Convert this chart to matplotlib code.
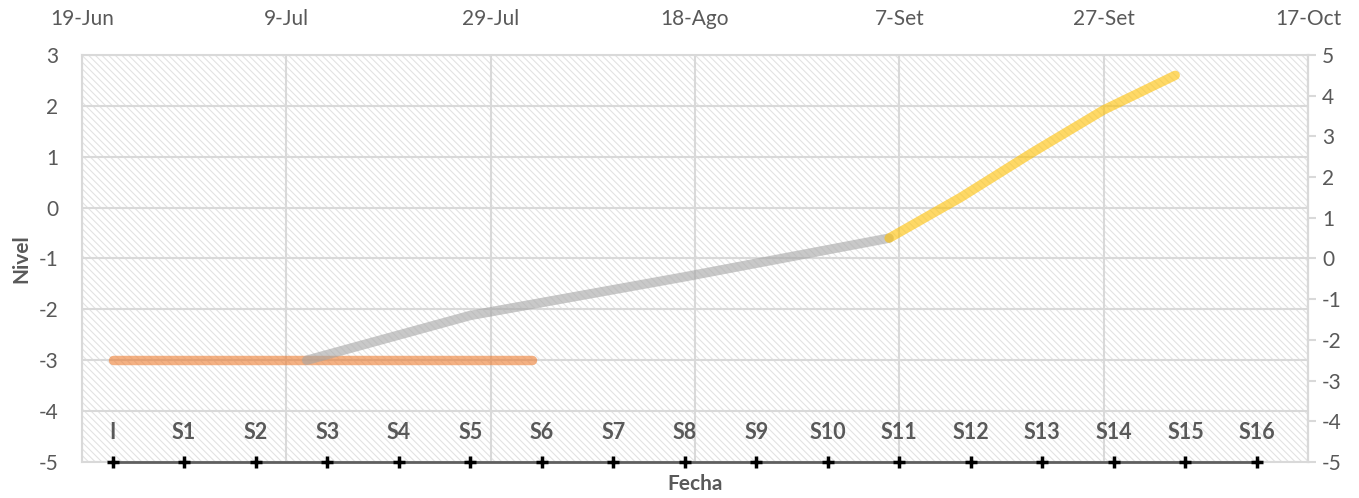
import pandas as pd
import matplotlib.pyplot as plt

plt.rcParams['font.family'] = ['Lato', 'DejaVu Sans']
plt.rcParams['axes.unicode_minus'] = False
plt.rcParams['hatch.linewidth'] = 0.8

# data
week_labels = ["I", "S1", "S2", "S3", "S4", "S5", "S6", "S7", "S8",
               "S9", "S10", "S11", "S12", "S13", "S14", "S15", "S16"]
week_dates = ["2021-06-22", "2021-06-29", "2021-07-06", "2021-07-13",
              "2021-07-20", "2021-07-27", "2021-08-03", "2021-08-10",
              "2021-08-17", "2021-08-24", "2021-08-31", "2021-09-07",
              "2021-09-14", "2021-09-21", "2021-09-28", "2021-10-05",
              "2021-10-12"]
week_level = [-5, -5, -5, -5, -5, -5, -5, -5, -5, -5, -5, -5, -5, -5, -5, -5, -5]

orange_dates = ["2021-06-22", "2021-08-02"]
orange_level = [-3, -3]

gray_dates = ["2021-07-11", "2021-07-27", "2021-08-17", "2021-09-06"]
gray_level = [-2.5, -1.4, -0.45, 0.5]

yellow_dates = ["2021-09-06", "2021-09-13", "2021-09-20", "2021-09-27", "2021-10-04"]
yellow_level = [0.5, 1.5, 2.6, 3.65, 4.5]

date_ticks = ["2021-06-19", "2021-07-09", "2021-07-29", "2021-08-18",
              "2021-09-07", "2021-09-27", "2021-10-17"]
date_tick_labels = ["19-Jun", "9-Jul", "29-Jul", "18-Ago", "7-Set", "27-Set", "17-Oct"]

left_ticks = [-5, -4, -3, -2, -1, 0, 1, 2, 3]
right_ticks = [-5, -4, -3, -2, -1, 0, 1, 2, 3, 4, 5]

week_dates = pd.to_datetime(week_dates)
orange_dates = pd.to_datetime(orange_dates)
gray_dates = pd.to_datetime(gray_dates)
yellow_dates = pd.to_datetime(yellow_dates)
date_ticks = pd.to_datetime(date_ticks)

text_col = "#595959"
grid_col = "#D9D9D9"

fig = plt.figure(figsize=(13.59, 4.98), dpi=100)
ax = fig.add_axes([0.0603, 0.0723, 0.9022, 0.8173])

# hatched plot area
ax.patch.set_facecolor("white")
ax.patch.set_edgecolor("#E2E2E2")
ax.patch.set_hatch("\\\\\\\\\\")

ax.set_xlim(date_ticks[0], date_ticks[-1])
ax.set_ylim(-5, 3)
ax.set_yticks(left_ticks)
ax.set_xticks(date_ticks)
ax.set_xticklabels(date_tick_labels)
ax.xaxis.tick_top()
ax.tick_params(axis="x", length=0, pad=19, labelsize=15, labelcolor=text_col)
ax.tick_params(axis="y", length=0, pad=17, labelsize=15, labelcolor=text_col)
ax.grid(True, color=grid_col, linewidth=1.5)
ax.set_axisbelow(True)
for s in ax.spines.values():
    s.set_color(grid_col)
    s.set_linewidth(1.5)

# weeks line along the bottom
ax.plot(week_dates, week_level, color="#5F5F5F", linewidth=2, marker="+",
        markersize=8, markeredgewidth=2.5, markeredgecolor="black",
        clip_on=False, zorder=5)
for d, lab in zip(week_dates, week_labels):
    ax.annotate(lab, (d, -5), xytext=(0, 21), textcoords="offset points",
                ha="center", va="center", fontsize=15.5, fontweight="bold",
                color=text_col)

# orange series
ax.plot(orange_dates, orange_level, color="#ED7D31", alpha=0.6, linewidth=6.8,
        solid_capstyle="round", zorder=4)

ax.set_ylabel("Nivel", fontsize=15, fontweight="bold", color=text_col, labelpad=5)
ax.xaxis.set_label_position("bottom")
ax.set_xlabel("Fecha", fontsize=15, fontweight="bold", color=text_col, labelpad=9)

# secondary axis
ax2 = ax.twinx()
ax2.set_ylim(-5, 5)
ax2.set_yticks(right_ticks)
ax2.tick_params(axis="y", length=6, width=1.5, color=grid_col, pad=4,
                labelsize=15, labelcolor=text_col)
for s in ax2.spines.values():
    s.set_visible(False)
ax2.spines["right"].set_visible(True)
ax2.spines["right"].set_color(grid_col)
ax2.spines["right"].set_linewidth(1.5)

ax2.plot(gray_dates, gray_level, color="#A5A5A5", alpha=0.6, linewidth=6.8,
         solid_capstyle="round", solid_joinstyle="round")
ax2.plot(yellow_dates, yellow_level, color="#FFC000", alpha=0.6, linewidth=6.8,
         solid_capstyle="round", solid_joinstyle="round")

fig.savefig("out.png", dpi=100)
